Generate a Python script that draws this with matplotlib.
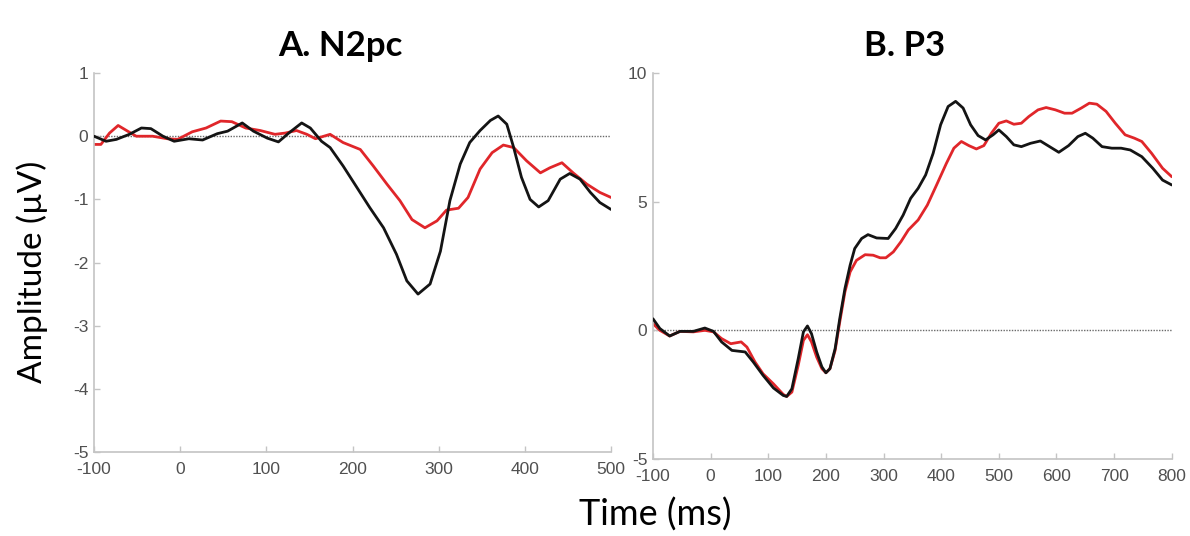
import matplotlib
matplotlib.use("Agg")
import matplotlib.pyplot as plt

plt.rcParams["axes.unicode_minus"] = False

# N2pc waveforms (time in ms, amplitude in microvolts)
n2pc_black_t = [-100, -86, -74, -59, -45, -34, -20, -7, 10, 26, 43, 55, 72, 85, 101, 114, 126, 141,
                151, 164, 174, 189, 205, 220, 236, 251, 263, 276, 290, 302, 313, 325, 336, 348, 360,
                369, 379, 387, 396, 406, 416, 427, 441, 452, 464, 476, 487, 500]
n2pc_black_v = [0.0, -0.08, -0.05, 0.03, 0.13, 0.12, 0.0, -0.08, -0.04, -0.06, 0.04, 0.08, 0.21, 0.08,
                -0.03, -0.09, 0.05, 0.21, 0.13, -0.08, -0.18, -0.47, -0.81, -1.13, -1.45, -1.87, -2.29,
                -2.5, -2.34, -1.82, -1.02, -0.44, -0.1, 0.09, 0.25, 0.32, 0.19, -0.18, -0.65, -1.0,
                -1.12, -1.02, -0.68, -0.59, -0.68, -0.89, -1.05, -1.16]

n2pc_red_t = [-100, -92, -82, -72, -61, -51, -32, -15, -3, 14, 30, 47, 60, 76, 93, 110, 122, 135, 147,
              157, 174, 189, 209, 224, 240, 255, 269, 284, 298, 309, 323, 334, 348, 362, 375, 387, 402,
              418, 429, 443, 456, 472, 487, 500]
n2pc_red_v = [-0.13, -0.13, 0.05, 0.17, 0.08, 0.0, 0.0, -0.04, -0.05, 0.07, 0.13, 0.24, 0.23, 0.13,
              0.09, 0.03, 0.05, 0.09, 0.03, -0.04, 0.03, -0.1, -0.21, -0.47, -0.76, -1.02, -1.32,
              -1.45, -1.34, -1.17, -1.14, -0.97, -0.52, -0.26, -0.14, -0.18, -0.39, -0.58, -0.5,
              -0.42, -0.58, -0.76, -0.89, -0.97]

# P3 waveforms
p3_black_t = [-100, -88, -71, -53, -30, -10, 5, 19, 37, 60, 74, 91, 109, 126, 132, 141, 152, 161, 168,
              175, 184, 193, 200, 207, 216, 224, 233, 242, 250, 262, 273, 288, 308, 321, 334, 347,
              360, 373, 386, 399, 412, 425, 438, 451, 464, 477, 490, 500, 513, 526, 539, 555, 572,
              588, 604, 621, 637, 650, 663, 679, 696, 712, 728, 748, 767, 784, 800]
p3_black_v = [0.45, 0.07, -0.22, -0.04, -0.04, 0.09, -0.04, -0.45, -0.78, -0.84, -1.23, -1.75, -2.24,
              -2.53, -2.57, -2.27, -1.1, -0.06, 0.17, -0.13, -0.84, -1.42, -1.65, -1.49, -0.71, 0.45,
              1.62, 2.53, 3.18, 3.57, 3.72, 3.59, 3.57, 3.96, 4.48, 5.13, 5.52, 6.04, 6.88, 7.99, 8.7,
              8.9, 8.64, 7.99, 7.57, 7.4, 7.6, 7.79, 7.53, 7.21, 7.14, 7.27, 7.36, 7.14, 6.92, 7.18,
              7.53, 7.66, 7.47, 7.14, 7.08, 7.08, 7.01, 6.75, 6.3, 5.84, 5.65]

p3_red_t = [-100, -88, -71, -53, -30, -10, 5, 19, 35, 53, 63, 77, 91, 109, 126, 132, 141, 152, 161,
            168, 175, 184, 193, 200, 207, 216, 224, 233, 242, 253, 268, 282, 294, 304, 317, 330, 343,
            360, 376, 392, 409, 422, 435, 448, 461, 474, 487, 500, 513, 526, 539, 552, 568, 582, 598,
            614, 627, 643, 657, 670, 686, 702, 719, 735, 748, 765, 784, 800]
p3_red_v = [0.26, 0.0, -0.22, -0.04, -0.06, 0.0, -0.06, -0.32, -0.52, -0.45, -0.65, -1.23, -1.69,
            -2.08, -2.49, -2.57, -2.4, -1.36, -0.39, -0.17, -0.45, -1.04, -1.49, -1.65, -1.49, -0.78,
            0.32, 1.49, 2.27, 2.72, 2.94, 2.92, 2.82, 2.82, 3.05, 3.44, 3.9, 4.29, 4.87, 5.65, 6.49,
            7.08, 7.34, 7.18, 7.05, 7.18, 7.66, 8.05, 8.14, 8.01, 8.05, 8.31, 8.57, 8.66, 8.57, 8.44,
            8.44, 8.64, 8.83, 8.79, 8.51, 8.05, 7.6, 7.47, 7.34, 6.88, 6.3, 5.97]

n2pc_xticks = [-100, 0, 100, 200, 300, 400, 500]
n2pc_yticks = [-5, -4, -3, -2, -1, 0, 1]
p3_xticks = [-100, 0, 100, 200, 300, 400, 500, 600, 700, 800]
p3_yticks = [-5, 0, 5, 10]

BLACK = "#141414"
RED = "#e0262a"
SPINE = "#c4c4c4"
TICKTXT = "#505050"

fig = plt.figure(figsize=(11.9, 5.36), dpi=100)
fig.patch.set_facecolor("white")

ax_a = fig.add_axes([0.079, 0.1567, 0.4345, 0.707])
ax_b = fig.add_axes([0.5487, 0.1437, 0.436, 0.720])


def style_axis(ax, xlim, ylim, xticks, yticks):
    ax.set_xlim(*xlim)
    ax.set_ylim(*ylim)
    ax.set_xticks(xticks)
    ax.set_yticks(yticks)
    for side in ("top", "right"):
        ax.spines[side].set_visible(False)
    for side in ("left", "bottom"):
        ax.spines[side].set_color(SPINE)
        ax.spines[side].set_linewidth(1.2)
    ax.tick_params(direction="in", length=4, width=1, color=SPINE,
                   labelsize=12.5, labelcolor=TICKTXT)
    ax.tick_params(axis="x", pad=7)
    ax.tick_params(axis="y", pad=4)
    for lab in ax.get_xticklabels() + ax.get_yticklabels():
        lab.set_fontfamily("Liberation Sans")
    # dotted baseline at zero
    ax.plot(xlim, [0, 0], linestyle=(0, (1, 1)), color="#6a6a6a", linewidth=1.0, zorder=1)


style_axis(ax_a, (-100, 500), (-5, 1), n2pc_xticks, n2pc_yticks)
style_axis(ax_b, (-100, 800), (-5, 10), p3_xticks, p3_yticks)

line_kw = dict(linewidth=2.0, solid_joinstyle="round", solid_capstyle="round")
ax_a.plot(n2pc_black_t, n2pc_black_v, color=BLACK, zorder=3, **line_kw)
ax_a.plot(n2pc_red_t, n2pc_red_v, color=RED, zorder=2, **line_kw)
ax_b.plot(p3_black_t, p3_black_v, color=BLACK, zorder=3, **line_kw)
ax_b.plot(p3_red_t, p3_red_v, color=RED, zorder=2, **line_kw)

title_kw = dict(fontsize=25, fontweight="bold", family="Lato", color="black",
                ha="center", va="baseline")
fig.text(340 / 1190, 1 - 56 / 536, "A. N2pc", **title_kw)
fig.text(905 / 1190, 1 - 56 / 536, "B. P3", **title_kw)

fig.text(32 / 1190, 1 - 272 / 536, "Amplitude (\u00b5V)", rotation=90, fontsize=24,
         family="Lato", ha="center", va="center")
fig.text(655 / 1190, 1 - 515 / 536, "Time (ms)", fontsize=26, family="Lato",
         ha="center", va="center")

plt.savefig("out.png", dpi=100, facecolor="white")
